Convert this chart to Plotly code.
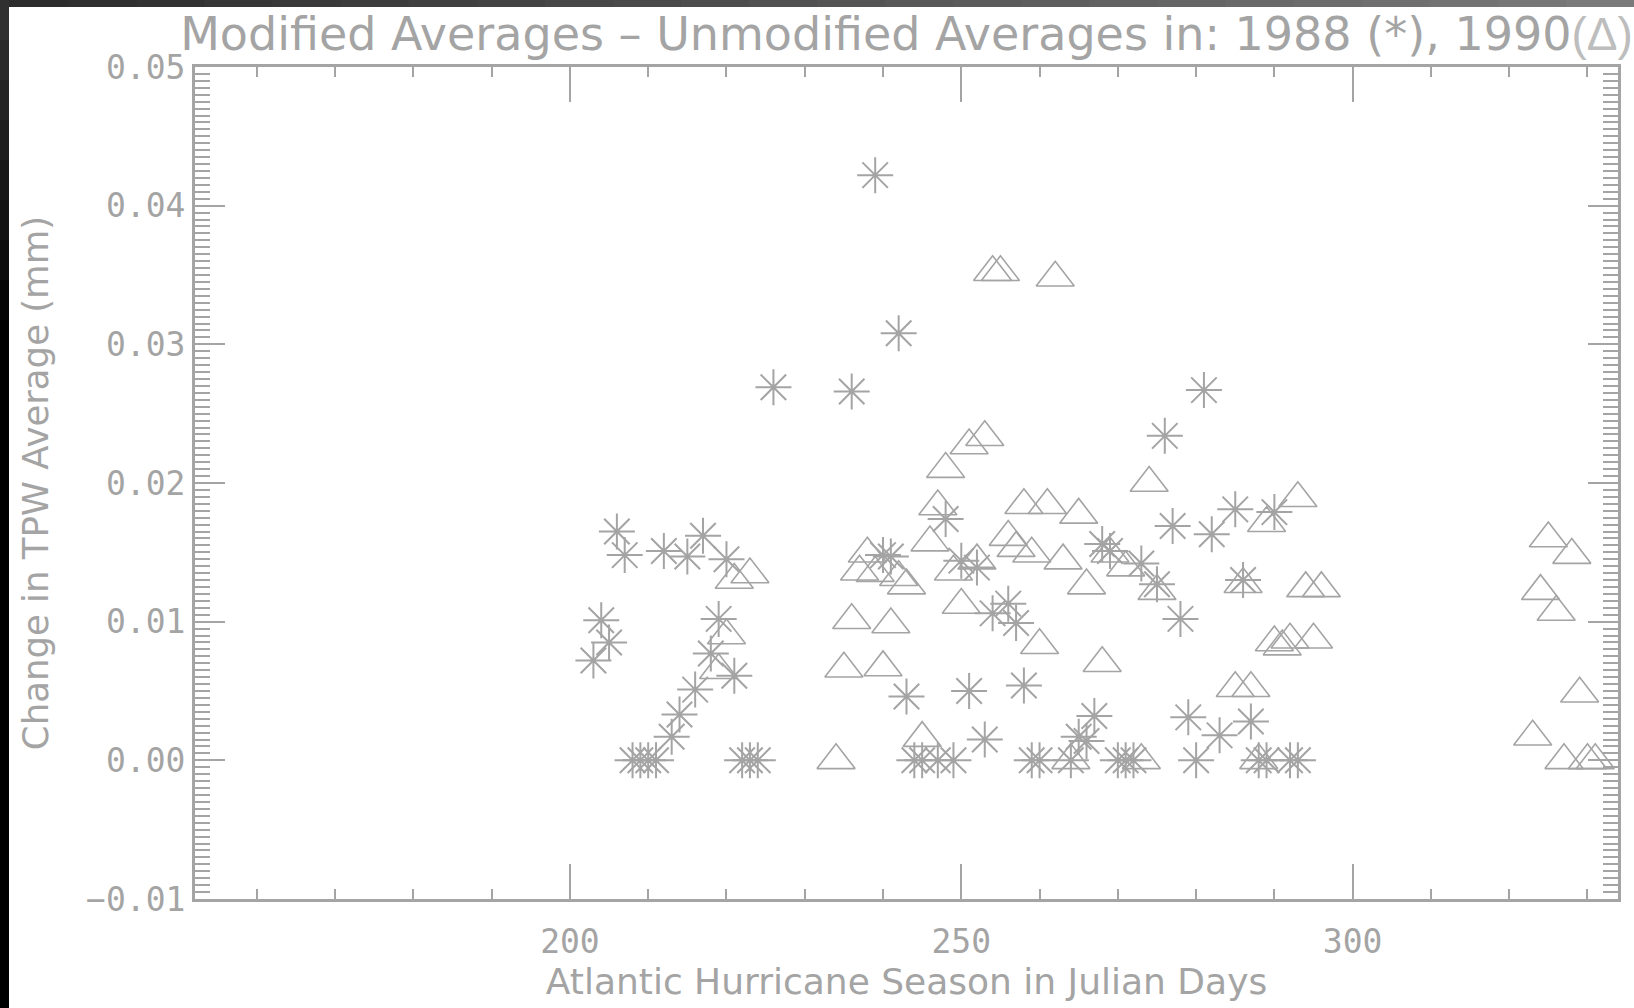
import plotly.graph_objects as go

# ---------------- data ----------------
days_1988 = [203, 204, 205, 206, 207, 208, 209, 210, 211, 212, 213, 214, 215, 216,
             217, 218, 219, 220, 221, 222, 223, 224, 226, 236, 239, 240, 241, 242,
             243, 244, 245, 247, 248, 249, 250, 251, 252, 253, 254, 256, 257, 258,
             259, 260, 264, 265, 266, 267, 268, 269, 270, 271, 272, 273, 275, 276,
             277, 278, 279, 280, 281, 282, 283, 285, 286, 287, 288, 289, 290, 292, 293]
tpw_1988 = [0.0072, 0.0101, 0.0085, 0.0165, 0.0148, 0.0, 0.0, 0.0, 0.0, 0.0151, 0.0017,
            0.0033, 0.0147, 0.0051, 0.0162, 0.0077, 0.0102, 0.0145, 0.0061, 0.0, 0.0,
            0.0, 0.0269, 0.0266, 0.0422, 0.0148, 0.0147, 0.0308, 0.0046, 0.0, 0.0, 0.0,
            0.0174, 0.0, 0.0144, 0.0050, 0.0139, 0.0015, 0.0106, 0.0113, 0.0099, 0.0054,
            0.0, 0.0, 0.0, 0.0017, 0.0014, 0.0032, 0.0156, 0.0151, 0.0, 0.0, 0.0, 0.0142,
            0.0127, 0.0234, 0.0169, 0.0102, 0.0031, 0.0, 0.0267, 0.0163, 0.0018, 0.0181,
            0.0130, 0.0028, 0.0, 0.0, 0.0179, 0.0, 0.0]

days_1990 = [219, 220, 221, 223, 234, 235, 236, 237, 238, 239, 240, 241, 242, 243, 245,
             246, 247, 248, 249, 250, 251, 252, 253, 254, 255, 256, 257, 258, 259, 260,
             261, 262, 263, 264, 265, 266, 268, 269, 271, 273, 274, 275, 285, 286, 287,
             288, 289, 290, 291, 292, 293, 294, 295, 296, 323, 324, 325, 326, 327, 328,
             329, 330, 331]
tpw_1990 = [0.0065, 0.0090, 0.0130, 0.0134, 0.0, 0.0066, 0.0101, 0.0136, 0.0149, 0.0135,
            0.0067, 0.0098, 0.0132, 0.0126, 0.0016, 0.0157, 0.0183, 0.0210, 0.0136, 0.0112,
            0.0227, 0.0144, 0.0233, 0.0352, 0.0352, 0.0161, 0.0153, 0.0184, 0.0149, 0.0083,
            0.0184, 0.0348, 0.0144, 0.0, 0.0177, 0.0126, 0.0070, 0.0149, 0.0139, 0.0, 0.0200,
            0.0122, 0.0052, 0.0127, 0.0052, 0.0, 0.0171, 0.0085, 0.0082, 0.0087, 0.0189,
            0.0124, 0.0087, 0.0124, 0.0017, 0.0122, 0.0160, 0.0107, 0.0, 0.0148, 0.0048,
            0.0, 0.0]

title_text = ("Modified Averages – Unmodified Averages in: 1988 (*), 1990"
              "<span style='font-family:Liberation Sans;color:#bdbdbd'>(Δ)</span>")
x_title = "Atlantic Hurricane Season in Julian Days"
y_title = "Change in TPW Average (mm)"

GRAY = "#a4a4a4"
FONT = "DejaVu Sans"
TICKFONT = "DejaVu Sans Mono"

fig = go.Figure()
fig.add_trace(go.Scatter(
    x=days_1988, y=tpw_1988, mode="markers", name="1988",
    marker=dict(symbol="asterisk-open", size=30, color=GRAY,
                line=dict(color=GRAY, width=2)),
    cliponaxis=True, showlegend=False))
fig.add_trace(go.Scatter(
    x=days_1990, y=tpw_1990, mode="markers", name="1990",
    marker=dict(symbol="triangle-up-open", size=33, color=GRAY,
                line=dict(color=GRAY, width=1.6)),
    cliponaxis=True, showlegend=False))

W, H = 1634, 1008
L, R, T, B = 195, 16, 67, 109
pw, ph = W - L - R, H - T - B


def px_x(px):
    return (px - L) / pw


def px_y(py):
    return (H - B - py) / ph


# dark window frame (top gradient strip, left black strip)
shapes = []
nseg = 24
for i in range(nseg):
    x0 = i * W / nseg
    x1 = (i + 1) * W / nseg + 1
    g = int(0x2c + (0x7a - 0x2c) * i / (nseg - 1))
    shapes.append(dict(type="rect", xref="paper", yref="paper",
                       x0=px_x(x0), x1=px_x(x1), y0=px_y(7), y1=px_y(0),
                       fillcolor=f"rgb({g},{g},{g})", line=dict(width=0), layer="above"))
for i in range(12):
    y0 = i * 40
    y1 = (i + 1) * 40 + 1
    g = max(0, int(0x30 - 0x30 * i / 8))
    shapes.append(dict(type="rect", xref="paper", yref="paper",
                       x0=px_x(0), x1=px_x(9), y0=px_y(y1), y1=px_y(y0),
                       fillcolor=f"rgb({g},{g},{g})", line=dict(width=0), layer="above"))
shapes.append(dict(type="rect", xref="paper", yref="paper",
                   x0=px_x(0), x1=px_x(9), y0=px_y(H), y1=px_y(480),
                   fillcolor="rgb(0,0,0)", line=dict(width=0), layer="above"))

fig.update_layout(
    width=W, height=H,
    margin=dict(l=L, r=R, t=T, b=B, autoexpand=False),
    paper_bgcolor="white", plot_bgcolor="white",
    font=dict(family=FONT, color=GRAY, size=34),
    title=dict(text=title_text, x=0.5, xref="paper", xanchor="center",
               y=1 - 34 / H, yref="container", yanchor="middle",
               font=dict(family=FONT, size=46, color=GRAY)),
    shapes=shapes,
)

fig.update_xaxes(
    range=[152.1, 333.9], dtick=50, tick0=0,
    ticks="inside", ticklen=35, tickwidth=2, tickcolor=GRAY,
    minor=dict(dtick=10, tick0=0, ticks="inside", ticklen=10, tickwidth=2, tickcolor=GRAY),
    showline=True, linewidth=3, linecolor=GRAY, mirror="allticks",
    showgrid=False, zeroline=False,
    tickfont=dict(family=TICKFONT, size=33, color=GRAY), ticklabelstandoff=11,
    title=dict(text=x_title, font=dict(family=FONT, size=36, color=GRAY), standoff=10),
)
fig.update_yaxes(
    range=[-0.01, 0.05], dtick=0.01, tick0=0, tickformat=".2f",
    ticks="inside", ticklen=30, tickwidth=2, tickcolor=GRAY,
    minor=dict(dtick=0.0005, tick0=0, ticks="inside", ticklen=15, tickwidth=2, tickcolor=GRAY),
    showline=True, linewidth=3, linecolor=GRAY, mirror="allticks",
    showgrid=False, zeroline=False,
    tickfont=dict(family=TICKFONT, size=33, color=GRAY), ticklabelstandoff=0,
    title=dict(text=y_title, font=dict(family=FONT, size=35.5, color=GRAY), standoff=27),
)

fig.write_html("out.html", config={"displayModeBar": False},
               post_script="document.body.style.margin='0';")
